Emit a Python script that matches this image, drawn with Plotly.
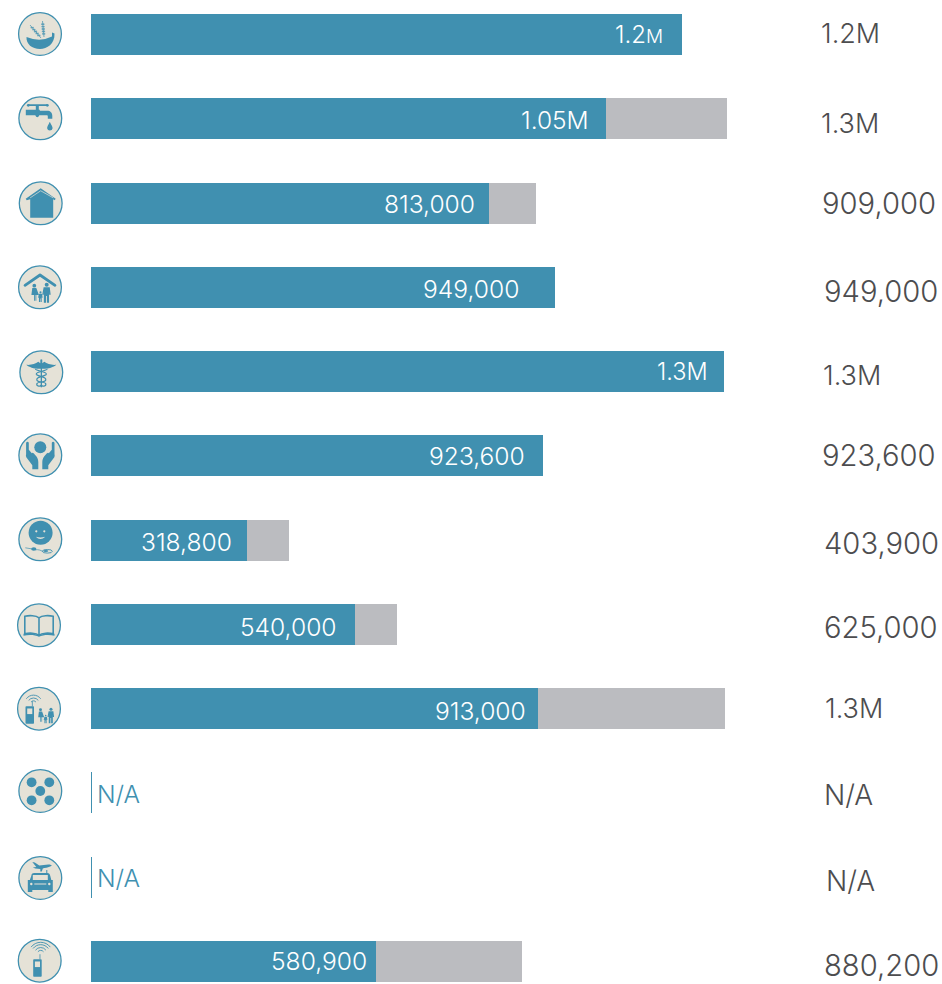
import base64
import plotly.graph_objects as go

# ---------- data ----------
categories = ["Food", "Water", "Shelter", "Settlement", "Health", "Protection",
              "Nutrition", "Education", "Logistics and telecom", "Coordination",
              "Transport", "Telecoms"]
reached = [1207600, 1052300, 813000, 949000, 1293400, 923600,
           318800, 540000, 913000, 1500, 1500, 582000]
target = [1207600, 1299500, 909000, 949000, 1293400, 923600,
          403900, 625000, 1295500, 1500, 1500, 880200]
reached_labels = ["1.2<span style='font-size:19px'>M</span>", "1.05M", "813,000", "949,000", "1.3M", "923,600",
                  "318,800", "540,000", "913,000", "N/A", "N/A", "580,900"]
target_labels = ["1.2M", "1.3M", "909,000", "949,000", "1.3M", "923,600",
                 "403,900", "625,000", "1.3M", "N/A", "N/A", "880,200"]

# ---------- styling ----------
BLUE = "#4090B0"
GREY = "#BBBCC0"
BEIGE = "#E5E2D7"
TEXT = "#4D4D4F"
FONT = "Inter, Lato, sans-serif"
W, H = 942, 984
remainder = [t - r for t, r in zip(target, reached)]

inner_gap = [17, 15, 12, 34, 14, 16, 13, 16, 10, 0, 0, 7]
inner_size = [24, 24.5, 24.6, 24.6, 23.5, 24.6, 24.6, 24.6, 24.6, 24.5, 24.5, 24.6]
right_left = [819, 819, 820, 822, 821, 820, 822, 822, 823, 822, 824, 822]
right_size = [27, 27, 29.2, 29.2, 27, 29.2, 29.2, 29.2, 27, 28, 28, 29.2]
right_dy = [0.5, -5, 0, -4, -3.5, 0, -3, -3.5, 0, -2, -4, -4.5]
inner_dy = [0, -1, -1, -2, 0, 0, -2, -3, -2, -1, -1, 0]
icon_cx = [40, 40.3, 40.7, 40, 41.3, 40.3, 40.3, 39, 39, 40.3, 40.3, 39.7]
icon_cy = [34, 118.3, 203.3, 287.3, 372.3, 455.3, 539.3, 625.3, 708.7, 791, 878, 960.7]


# ---------- small vector icons (decoration only, no text) ----------
def person(x, foot, h, dress=False):
    r = h * 0.11
    head = f"<circle cx='{x}' cy='{foot - h + r}' r='{r}'/>"
    top = foot - h + 2 * r + 0.4
    w = h * 0.17
    if dress:
        body = (f"<path d='M{x - w * .7} {top}h{w * 1.4}l{w * .9} {h * .42}h{-w * .9}v{h * .33}"
                f"h{-w * .3}v{-h * .33}h{-w * .2}v{h * .33}h{-w * .3}v{-h * .33}h{-w * .9}z'/>")
    else:
        body = (f"<path d='M{x - w} {top}h{2 * w}l{w * .3} {h * .42}h{-w * .5}l-.1 {-h * .2}"
                f"v{h * .65}h{-w * .7}v{-h * .38}h{-w * .3}v{h * .38}h{-w * .7}v{-h * .65}"
                f"l-.1 {h * .2}h{-w * .5}z'/>")
    return head + body


def waves(x, y, radii):
    out = ""
    for r in radii:
        out += (f"<path d='M{x - r * .8} {y - r * .55}A{r} {r} 0 0 1 {x + r * .8} {y - r * .55}' "
                f"fill='none' stroke='{BLUE}' stroke-width='.9'/>")
    return out


def phone(x, y, w, h):
    return (f"<rect x='{x}' y='{y}' width='{w}' height='{h}' rx='.8'/>"
            f"<rect x='{x + w * .2}' y='{y + h * .13}' width='{w * .6}' height='{h * .32}' fill='{BEIGE}'/>"
            f"<rect x='{x + w * .75}' y='{y - 5}' width='.8' height='5'/>")


def wheat(x1, y1, x2, y2):
    out = (f"<line x1='{x1}' y1='{y1}' x2='{x2}' y2='{y2}' stroke='{BLUE}' stroke-width='.7'/>")
    for t in (.2, .35, .5, .65, .8):
        px = x1 + (x2 - x1) * t
        py = y1 + (y2 - y1) * t
        out += f"<circle cx='{px - .8}' cy='{py}' r='.9' opacity='.75'/><circle cx='{px + .8}' cy='{py}' r='.9' opacity='.75'/>"
    return out


icons = [
    # bowl
    wheat(27, 26, 25.5, 10) + wheat(24, 27, 13, 14) +
    f"<path d='M9.5 26Q23 31.5 35 25.5V21.5L37.5 22.5C38 33 30 38 23 38C15 38 9 33 9.5 26Z'/>",
    # tap
    f"<rect x='10.5' y='9' width='19.5' height='1.8' rx='.9'/><circle cx='11' cy='10' r='1.4'/><circle cx='30' cy='10' r='1.4'/>"
    "<rect x='18.5' y='10' width='3' height='5'/>"
    "<path d='M8.5 14.5H22.5V15.5H30C33 15.5 35 17.5 35 20.5V23.5H30.5V21C30.5 20.3 30 20 29.5 20H22C21 22.5 19 22.5 18 20H8.5Z'/>"
    "<path d='M32.5 26.5C31 30 29.8 31 29.8 33A2.8 2.8 0 0 0 35.3 33C35.3 31 34 30 32.5 26.5Z'/>",
    # house
    "<path d='M8 18.5L23 8L38 18.5L37 20L35.5 19V37.5H12.5V19L9 20Z'/>"
    f"<path d='M12.5 17.5L23 10.5L35.5 17.5' fill='none' stroke='{BEIGE}' stroke-width='.7'/>",
    # family under roof
    f"<path d='M8 21L23 10.7L38 21' fill='none' stroke='{BLUE}' stroke-width='2.8' stroke-linecap='round' stroke-linejoin='round'/>" +
    person(17.3, 36.5, 17, True) + person(29.7, 36.5, 18) + person(23.5, 36.5, 9.5),
    # caduceus
    "<path d='M8 15.5C13 16 17 14.5 20 12.5L22 14V10.5A1.4 1.4 0 0 1 24 10.5V14L26 12.5C29 14.5 33 16 38 15.5C35 18 31 19.5 24.5 19.5H21.5C15 19.5 11 18 8 15.5Z'/>"
    "<rect x='22.4' y='14' width='1.3' height='24'/>"
    f"<g fill='none' stroke='{BLUE}' stroke-width='1.2'><path d='M17 19.5C17 22 29 22 28 25C27 27.5 18 27 18.5 30.5C19 33.5 27 32 27.5 34.5C28 37 24 37.5 22 36'/>"
    "<path d='M29 19.5C29 22 17 22 18 25C19 27.5 28 27 27.5 30.5C27 33.5 19 32 18.5 34.5C18 37 22 37.5 24 36'/></g>",
    # hands
    "<circle cx='23' cy='15' r='6'/>"
    "<path d='M8.8 10.5C9.5 9 11 9 11.5 10.5V17.5L14.5 21C15 20 16 20 19 24C20.5 26 21 28 21 30V37H15V33L9 25C8.5 24 8.5 23 8.8 22Z'/>"
    "<path d='M37.2 10.5C36.5 9 35 9 34.5 10.5V17.5L31.5 21C31 20 30 20 27 24C25.5 26 25 28 25 30V37H31V33L37 25C37.5 24 37.5 23 37.2 22Z'/>",
    # face with spoon
    "<circle cx='23.3' cy='16.5' r='12'/>"
    f"<circle cx='19' cy='15' r='1.1' fill='{BEIGE}'/><circle cx='27' cy='15' r='1.1' fill='{BEIGE}'/>"
    f"<path d='M18.5 20.5Q23 25 28 20.5Q23 22 18.5 20.5Z' fill='{BEIGE}'/>"
    "<path d='M8 31.5L17 33' stroke='#4090B0' stroke-width='.7' fill='none'/><ellipse cx='16.5' cy='32.7' rx='2.6' ry='1.7'/>"
    "<path d='M18 33.5C21 33 24 34 26 35.5' stroke='#4090B0' stroke-width='.7' fill='none'/>"
    f"<ellipse cx='30' cy='35' rx='5' ry='1.8' fill='none' stroke='{BLUE}' stroke-width='.9'/><ellipse cx='28.5' cy='34.8' rx='2.5' ry='1'/>",
    # book
    f"<g fill='none' stroke='{BLUE}' stroke-width='1.6'><path d='M23 15.5C20 13 13 13 8.8 14V31.5C13 30.5 20 30.5 23 33C26 30.5 33 30.5 37.2 31.5V14C33 13 26 13 23 15.5ZV33'/></g>"
    "<path d='M7.5 31.5V33.5C13 32 19 32.5 23 34.5C27 32.5 33 32 38.5 33.5V31.5C33 31 27 31 23 33C19 31 13 31 7.5 31.5Z'/>",
    # phone, waves, family
    waves(17.5, 18, [3, 6, 9]) + phone(9.5, 20.5, 8.5, 17.5) + person(24.5, 36, 13.5, True) + person(35, 36, 14) + person(29.7, 36.5, 7.5),
    # dots
    "<circle cx='14.3' cy='14.3' r='4.9'/><circle cx='32' cy='14.3' r='4.9'/><circle cx='23' cy='23' r='4.9'/>"
    "<circle cx='14.3' cy='32.3' r='4.9'/><circle cx='32' cy='32.3' r='4.9'/>",
    # plane and truck
    "<path d='M15 7L17.5 7.5L22 10.5L31 9.5C33 9.5 35 10 34 11C31 12.5 27 13 25.5 13.5L24.5 16.5H23L23 14L18 13.5L15.5 12.5L19 12Z'/>"
    f"<path d='M14 21C14 19 15 18 17 18H29V15H30V18C32 18 32.5 19 33 21L34 25H35.5V37H31V35H15V37H10.5V25H12.5Z'/>"
    f"<rect x='15.5' y='20' width='15' height='5' fill='{BEIGE}'/><circle cx='14' cy='29' r='1.2' fill='{BEIGE}'/><circle cx='32' cy='29' r='1.2' fill='{BEIGE}'/>"
    f"<rect x='17' y='28.5' width='12' height='1' fill='{BEIGE}'/>",
    # phone and waves
    waves(24, 16, [3.5, 6.5, 9.5, 12]) + phone(16.5, 21.5, 8.5, 17.5),
]


def icon_uri(glyph):
    svg = (f"<svg xmlns='http://www.w3.org/2000/svg' width='46' height='46' viewBox='0 0 46 46'>"
           f"<circle cx='23' cy='23' r='21.4' fill='{BEIGE}' stroke='{BLUE}' stroke-width='1.3'/>"
           f"<g fill='{BLUE}'>{glyph}</g></svg>")
    return "data:image/svg+xml;base64," + base64.b64encode(svg.encode()).decode()


# ---------- figure ----------
fig = go.Figure()
fig.add_bar(y=categories, x=reached, orientation="h", marker=dict(color=BLUE, line=dict(width=0)))
fig.add_bar(y=categories, x=remainder, orientation="h", marker=dict(color=GREY, line=dict(width=0)))

annotations = []
for i, c in enumerate(categories):
    na = target_labels[i] == "N/A"
    annotations.append(dict(
        x=(0 if na else reached[i]), y=c, xref="x", yref="y",
        text=reached_labels[i], showarrow=False,
        xanchor="left" if na else "right",
        xshift=4 if na else -inner_gap[i], yshift=inner_dy[i],
        font=dict(family=FONT, size=inner_size[i], weight=300, color=BLUE if na else "#FFFFFF"),
    ))
    annotations.append(dict(
        x=right_left[i] / W, y=c, xref="paper", yref="y",
        text=target_labels[i], showarrow=False, xanchor="left", yshift=right_dy[i],
        font=dict(family=FONT, size=right_size[i], weight=300, color=TEXT),
    ))

images = [dict(source=icon_uri(g), xref="paper", yref="paper",
               x=(cx - 23) / W, y=1 - (cy - 23) / H, sizex=46 / W, sizey=46 / H,
               xanchor="left", yanchor="top", sizing="stretch", layer="above")
          for g, cx, cy in zip(icons, icon_cx, icon_cy)]

fig.update_layout(
    width=W, height=H, margin=dict(l=0, r=0, t=0, b=0, pad=0),
    barmode="stack", bargap=0.5135, showlegend=False,
    paper_bgcolor="white", plot_bgcolor="white",
    xaxis=dict(range=[-186000, 1738800], visible=False, fixedrange=True),
    yaxis=dict(range=[11.268, -0.409], visible=False, fixedrange=True, type="category",
               categoryorder="array", categoryarray=categories),
    annotations=annotations, images=images,
)
fig.write_html("out.html", config=dict(displayModeBar=False),
               post_script="document.body.style.margin='0';")
